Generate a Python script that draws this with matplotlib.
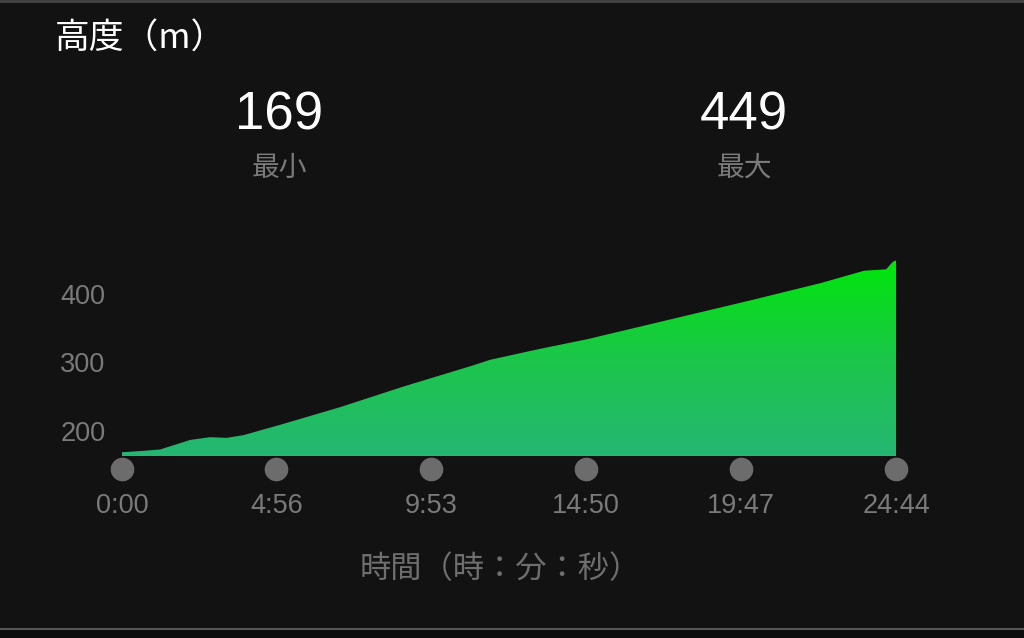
import numpy as np
import matplotlib.pyplot as plt
from matplotlib.colors import LinearSegmentedColormap
from matplotlib.patches import Polygon

plt.rcParams['font.family'] = ['Noto Sans CJK JP', 'DejaVu Sans']

# 高度データ（経過秒, m）
t_sec = [0, 40, 73, 131, 169, 201, 233, 303, 419, 540, 674, 706, 802, 892,
         1052, 1212, 1340, 1423, 1465, 1478, 1484]
alt_m = [169, 171, 173, 187, 191, 190, 194, 209, 235, 265, 296, 304, 320, 334,
         363, 392, 416, 434, 436, 447, 449]
x_ticks = [0, 296, 593, 890, 1187, 1484]
x_labels = ['0:00', '4:56', '9:53', '14:50', '19:47', '24:44']
y_ticks = [200, 300, 400]
alt_min, alt_max = 169, 449

W, H = 1024, 638
bg = '#121212'
gray = '#7a7a7a'
num_font = ['Liberation Sans', 'DejaVu Sans']

fig = plt.figure(figsize=(W / 100, H / 100), dpi=100, facecolor=bg)
# 軸の位置（ピクセル）
x0, x1, yb, yt = 122, 896, 456, 250
ax = fig.add_axes([x0 / W, 1 - yb / H, (x1 - x0) / W, (yb - yt) / H])
ax.set_facecolor(bg)
ymin = 200 - (456 - 431) / 0.685
ymax = 200 + (431 - 250) / 0.685
ax.set_xlim(0, 1484)
ax.set_ylim(ymin, ymax)
for s in ax.spines.values():
    s.set_visible(False)

# グラデーション塗り
cmap = LinearSegmentedColormap.from_list('g', ['#25b673', '#1cc64a', '#00e60a'])
grad = np.linspace(0, 1, 256).reshape(-1, 1)
top = max(alt_m)
im = ax.imshow(grad, cmap=cmap, origin='lower', aspect='auto',
               extent=[0, 1484, ymin, top], zorder=1)
verts = [(0, ymin)] + list(zip(t_sec, alt_m)) + [(1484, ymin)]
poly = Polygon(verts, closed=True, facecolor='none', edgecolor='none')
ax.add_patch(poly)
im.set_clip_path(poly)

# 軸ラベル
ax.set_yticks(y_ticks)
ax.set_yticklabels([str(v) for v in y_ticks])
ax.set_xticks([])
ax.tick_params(axis='y', length=0, pad=12, colors=gray, labelsize=19.5)
for lbl in ax.get_yticklabels():
    lbl.set_fontfamily(num_font)

# 下の灰色の丸と時刻
for xv, lab in zip(x_ticks, x_labels):
    ax.plot([xv], [ymin - 13 / 0.685], 'o', ms=16, color='#6c6c6c',
            clip_on=False, zorder=3)
    ax.text(xv, ymin - 50 / 0.685, lab, ha='center', va='center', color=gray,
            fontsize=19.5, family=num_font, clip_on=False)

# テキスト
fig.text(55 / W, 1 - 39 / H, '高度（m）', color='white', fontsize=25,
         ha='left', va='center')
fig.text(279 / W, 1 - 116 / H, str(alt_min), color='white', fontsize=38,
         ha='center', va='center', family=num_font)
fig.text(279 / W, 1 - 168 / H, '最小', color=gray, fontsize=20,
         ha='center', va='center')
fig.text(744 / W, 1 - 116 / H, str(alt_max), color='white', fontsize=38,
         ha='center', va='center', family=num_font)
fig.text(744 / W, 1 - 168 / H, '最大', color=gray, fontsize=20,
         ha='center', va='center')
fig.text(500 / W, 1 - 569 / H, '時間（時：分：秒）', color='#6e6e6e', fontsize=22.5,
         ha='center', va='center')

# 上下の枠線
fig.add_artist(plt.Line2D([0, 1], [1 - 1 / H, 1 - 1 / H], color='#444444', lw=2))
fig.add_artist(plt.Line2D([0, 1], [1 - 629 / H, 1 - 629 / H], color='#555555', lw=1.5))
fig.patches.append(plt.Rectangle((0, 0), 1, 1 - 630 / H, transform=fig.transFigure,
                                 facecolor='#0c0c0c', edgecolor='none'))

fig.savefig('out.png', dpi=100, facecolor=bg)
